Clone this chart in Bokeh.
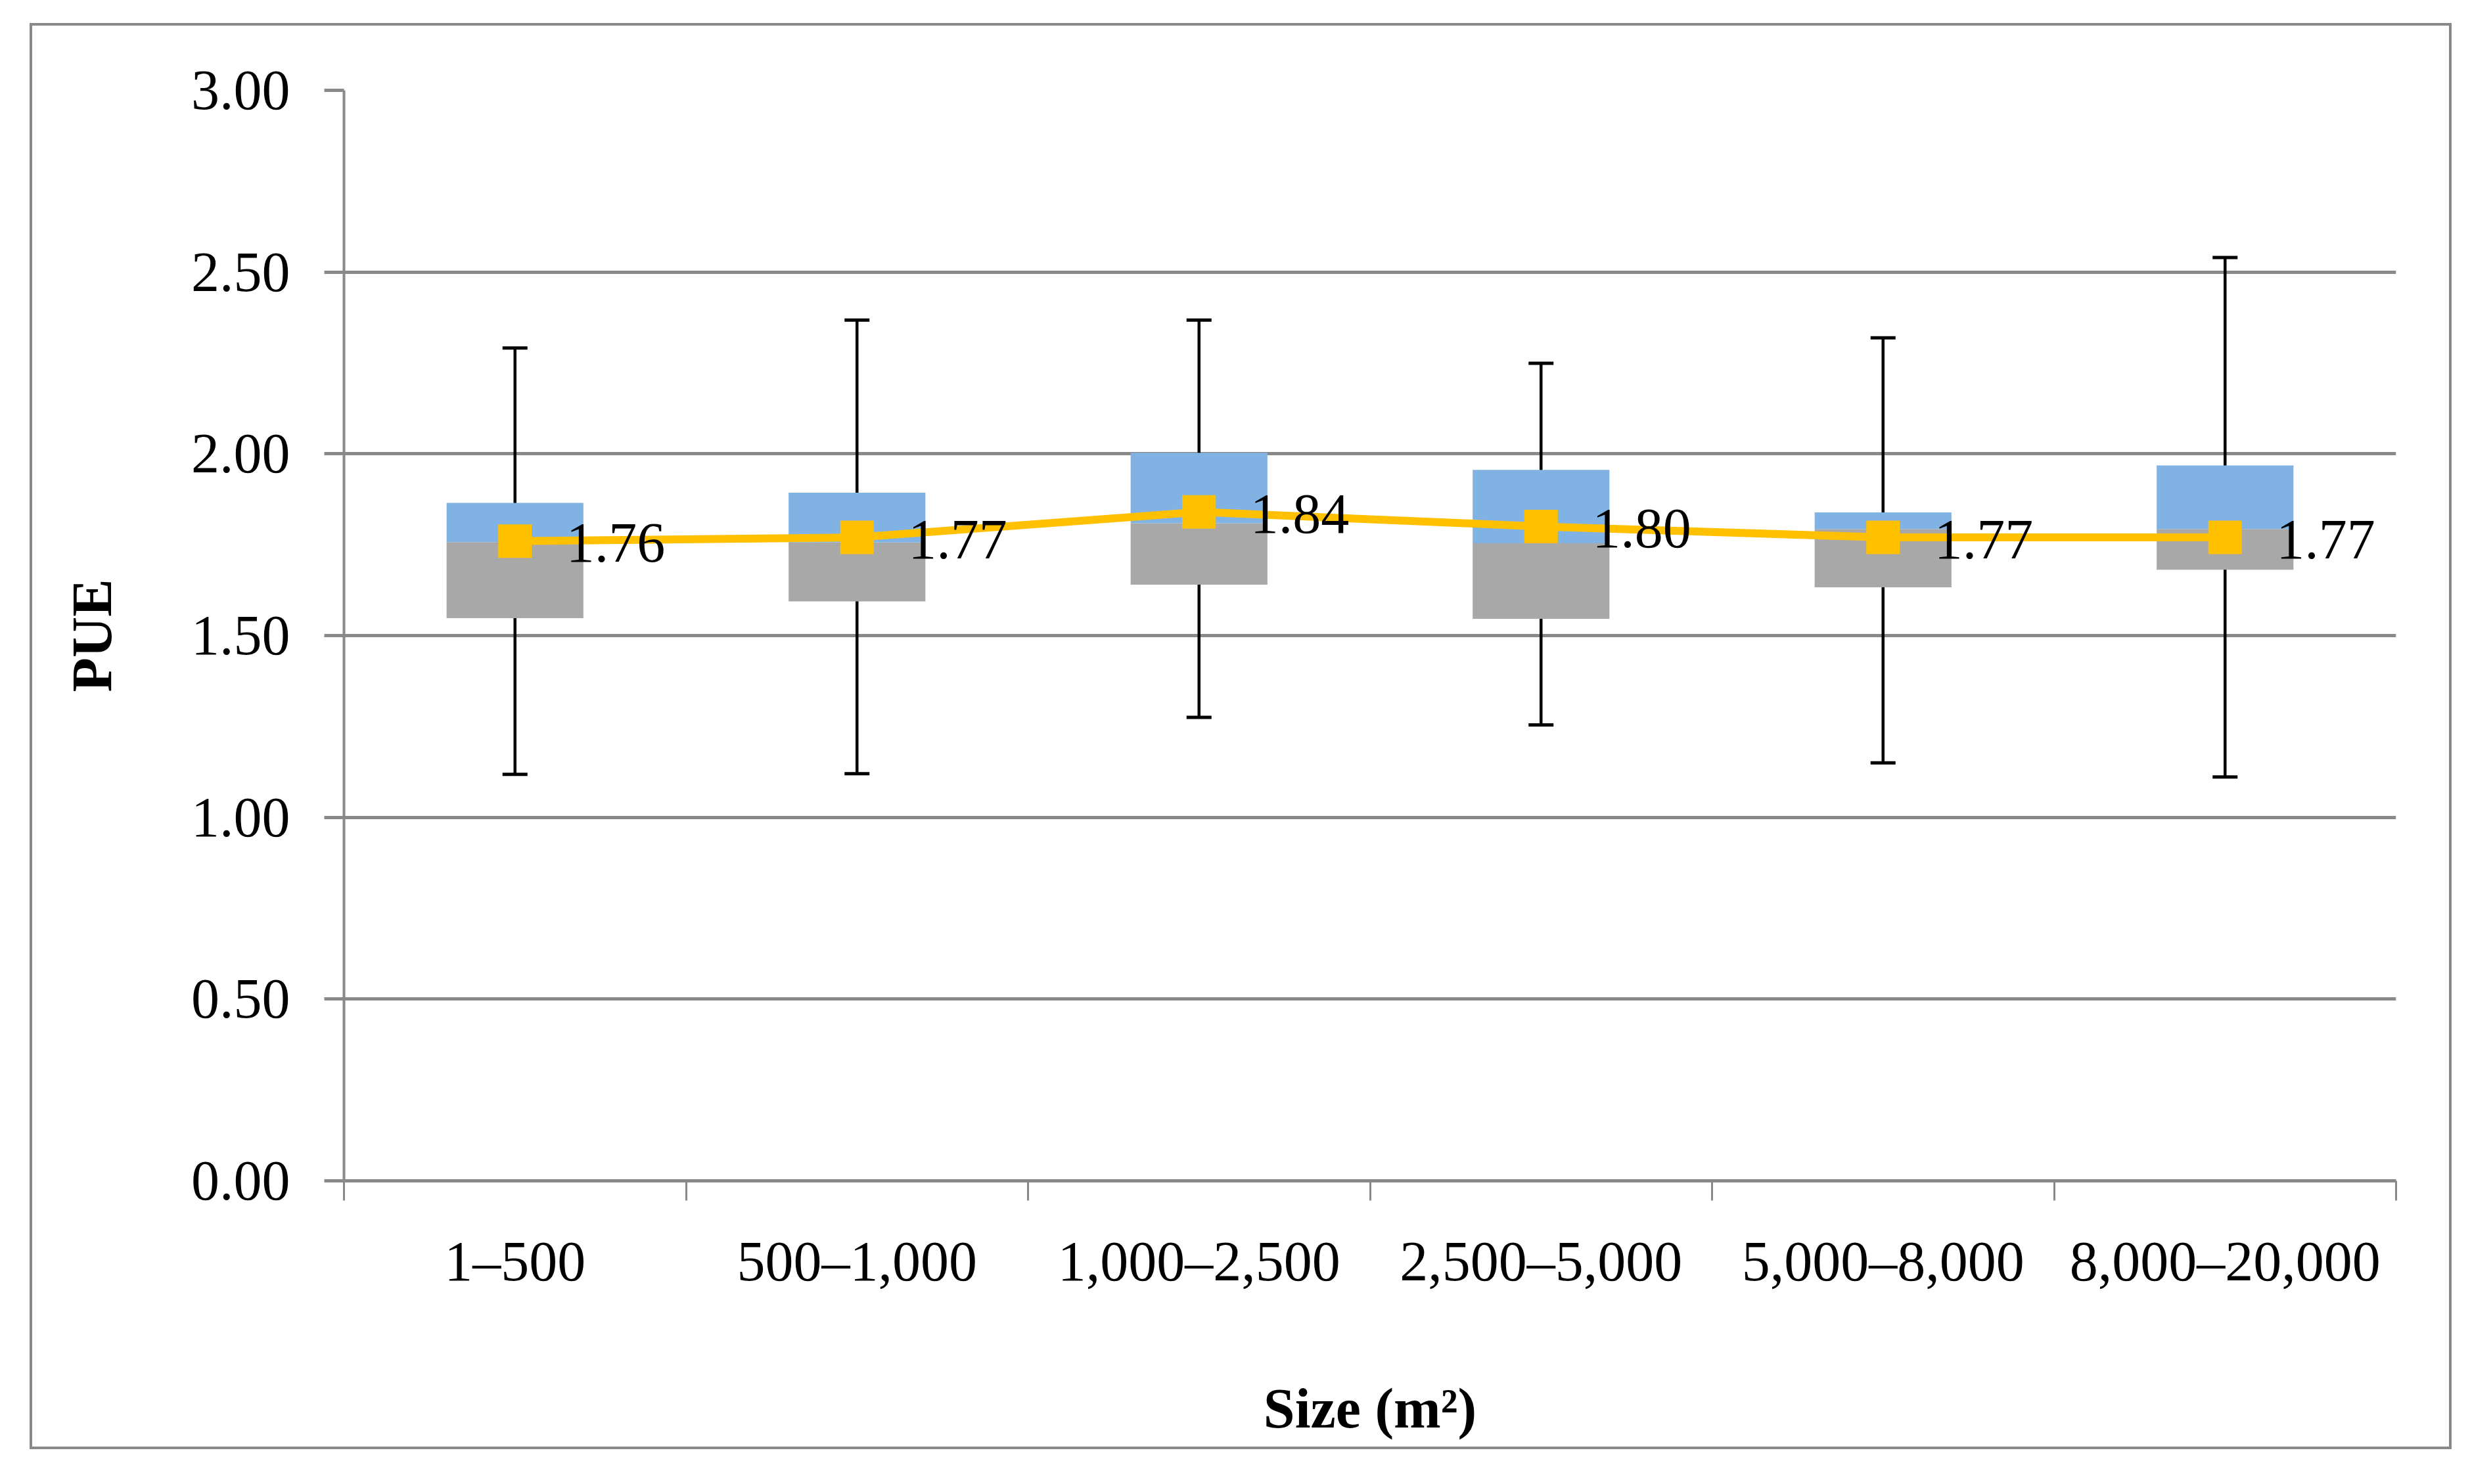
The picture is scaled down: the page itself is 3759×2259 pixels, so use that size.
import numpy as np
from bokeh.plotting import figure
from bokeh.models import (Range1d, FixedTicker, LinearAxis, ColumnDataSource, NumeralTickFormatter)
from bokeh.core.properties import value
from bokeh.embed import file_html
from bokeh.resources import INLINE

# ---- data ----
categories = ["1–500", "500–1,000", "1,000–2,500", "2,500–5,000", "5,000–8,000", "8,000–20,000"]
q1 = [1.548, 1.594, 1.640, 1.546, 1.633, 1.681]
median = [1.757, 1.756, 1.809, 1.754, 1.793, 1.793]
q3 = [1.865, 1.893, 2.003, 1.956, 1.839, 1.968]
whisker_max = [2.291, 2.368, 2.368, 2.249, 2.319, 2.540]
whisker_min = [1.118, 1.120, 1.275, 1.254, 1.150, 1.111]
means = [1.76, 1.77, 1.84, 1.80, 1.77, 1.77]
y_ticks = [0.0, 0.5, 1.0, 1.5, 2.0, 2.5, 3.0]

FONT = "Liberation Serif"
GRID = "#898989"
BLUE = "#80B3E3"
GRAY = "#A8A8A8"
YEL = "#FFC000"

n = len(categories)
xs = np.arange(n) + 0.5

p = figure(width=3686, height=2171, output_backend="svg", toolbar_location=None,
           x_range=Range1d(0, n), y_range=Range1d(0, 3),
           min_border_left=474, min_border_right=89, min_border_top=98, min_border_bottom=413,
           x_axis_location=None, y_axis_location=None,
           margin=(35, 0, 0, 45),
           styles={"border": "4px solid #898989", "box-sizing": "border-box"})
p.outline_line_color = None
p.background_fill_color = "white"
p.border_fill_color = "white"

# axes
yaxis = LinearAxis(ticker=FixedTicker(ticks=y_ticks),
                   formatter=NumeralTickFormatter(format="0.00"))
yaxis.axis_line_color = GRID
yaxis.axis_line_width = 4
yaxis.major_tick_line_color = GRID
yaxis.major_tick_line_width = 5
yaxis.major_tick_out = 30
yaxis.major_tick_in = 0
yaxis.minor_tick_line_color = None
yaxis.major_label_text_font = FONT
yaxis.major_label_text_font_size = "86px"
yaxis.major_label_text_color = "black"
yaxis.major_label_standoff = 52
yaxis.axis_label = "PUE"
yaxis.axis_label_text_font = FONT
yaxis.axis_label_text_font_size = "86px"
yaxis.axis_label_text_font_style = "bold"
yaxis.axis_label_text_color = "black"
yaxis.axis_label_text_align = "left"
yaxis.axis_label_standoff = 100
p.add_layout(yaxis, "left")

xaxis = LinearAxis(ticker=FixedTicker(ticks=list(xs), minor_ticks=list(range(n + 1))))
xaxis.major_label_overrides = {float(x): c for x, c in zip(xs, categories)}
xaxis.axis_line_color = GRID
xaxis.axis_line_width = 5
xaxis.major_tick_line_color = None
xaxis.major_tick_out = 30
xaxis.major_tick_in = 0
xaxis.minor_tick_line_color = GRID
xaxis.minor_tick_line_width = 3
xaxis.minor_tick_out = 30
xaxis.minor_tick_in = 0
xaxis.major_label_text_font = FONT
xaxis.major_label_text_font_size = "86px"
xaxis.major_label_text_color = "black"
xaxis.major_label_standoff = 44
xaxis.axis_label = "Size (m²)"
xaxis.axis_label_text_font = FONT
xaxis.axis_label_text_font_size = "86px"
xaxis.axis_label_text_font_style = "bold"
xaxis.axis_label_text_color = "black"
xaxis.axis_label_standoff = 125
p.add_layout(xaxis, "below")

p.xgrid.grid_line_color = None
p.ygrid.ticker = FixedTicker(ticks=y_ticks)
p.ygrid.grid_line_color = GRID
p.ygrid.grid_line_width = 5

src = ColumnDataSource(dict(x=xs, q1=q1, med=median, q3=q3, hi=whisker_max, lo=whisker_min,
                            mean=means, lab=[f"{m:.2f}" for m in means],
                            cl=xs - 0.0365, cr=xs + 0.0365))

# whiskers (under boxes)
p.segment(x0="x", y0="lo", x1="x", y1="hi", source=src, line_color="black", line_width=4.5)
p.segment(x0="cl", y0="hi", x1="cr", y1="hi", source=src, line_color="black", line_width=5)
p.segment(x0="cl", y0="lo", x1="cr", y1="lo", source=src, line_color="black", line_width=5)

# boxes
p.vbar(x="x", width=0.4, bottom="q1", top="med", source=src, fill_color=GRAY, line_color=None)
p.vbar(x="x", width=0.4, bottom="med", top="q3", source=src, fill_color=BLUE, line_color=None)

# mean line and markers
p.line(x="x", y="mean", source=src, line_color=YEL, line_width=12)
p.scatter(x="x", y="mean", source=src, marker="square", size=51, fill_color=YEL, line_color=None)

# data labels
p.text(x="x", y="mean", text="lab", source=src, x_offset=78, y_offset=3,
       text_align="left", text_baseline="middle", text_font=value(FONT),
       text_font_size="86px", text_color="black")

open("out.html", "w").write(file_html(p, INLINE))
